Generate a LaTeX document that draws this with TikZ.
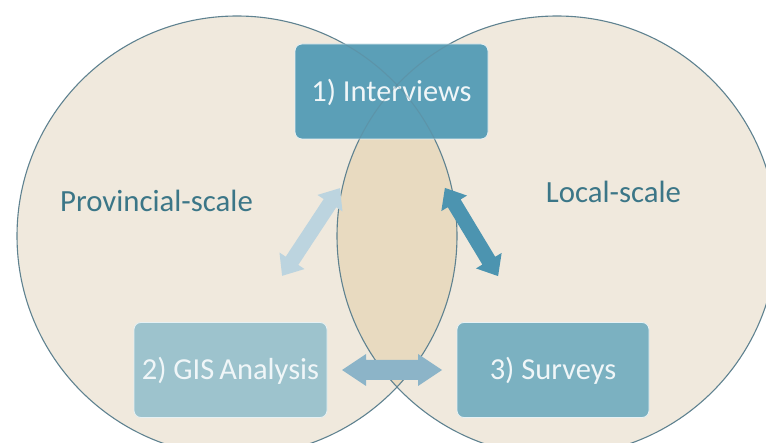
\documentclass[tikz,border=0pt]{standalone}
\usepackage{fontspec}
\setmainfont{Carlito}
\definecolor{cream}{HTML}{F0E9DD}
\definecolor{lensc}{HTML}{E8DAC0}
\definecolor{outl}{HTML}{5F8290}
\definecolor{boxa}{HTML}{5B9FB7}
\definecolor{boxb}{HTML}{9DC3CD}
\definecolor{boxc}{HTML}{7BB1C1}
\definecolor{boxtxt}{HTML}{F0F6F8}
\definecolor{lbl}{HTML}{3B7687}
\definecolor{arrl}{HTML}{BCD4DF}
\definecolor{arrr}{HTML}{4C94B0}
\definecolor{arrh}{HTML}{8CB4C8}
\tikzset{
  stagebox/.style={rounded corners=7pt, draw=white!85!boxa, line width=0.8pt,
    minimum width=193pt, minimum height=95pt, inner sep=0pt,
    text=boxtxt, font=\fontsize{30.5}{33}\selectfont, text height=19.5pt, text depth=0pt},
  scalelbl/.style={text=lbl, font=\fontsize{30.8}{33}\selectfont, anchor=base, inner sep=0pt},
  circline/.style={draw=outl, line width=1.1pt},
}
% double block arrow: #1 length, #2 shaft half, #3 head half, #4 head length
\newcommand{\dblarrowpath}[4]{%
  (-#1/2,0) -- (-#1/2+#4,#3) -- (-#1/2+#4,#2) -- (#1/2-#4,#2) -- (#1/2-#4,#3) -- (#1/2,0)
  -- (#1/2-#4,-#3) -- (#1/2-#4,-#2) -- (-#1/2+#4,-#2) -- (-#1/2+#4,-#3) -- cycle}
\begin{document}
\begin{tikzpicture}[x=1pt,y=-1pt]
\useasboundingbox (0,0) rectangle (766,443);
\begin{scope}
\clip (0,0) rectangle (766,443);
\fill[cream] (237,236) circle (220);
\fill[cream] (557,236) circle (220);
\begin{scope}
\clip (237,236) circle (220);
\fill[lensc] (557,236) circle (220);
\end{scope}
\draw[circline] (237,236) circle (220);
\draw[circline] (557,236) circle (220);
\end{scope}

% arrows
\begin{scope}[shift={(311,232)}, rotate=56.6]
\fill[arrl] \dblarrowpath{105}{7.5}{15}{18};
\end{scope}
\begin{scope}[shift={(471.5,232)}, rotate=-58.9]
\fill[arrr] \dblarrowpath{103}{7.5}{15}{18};
\end{scope}
\begin{scope}[shift={(392,370)}]
\fill[arrh] \dblarrowpath{100}{10}{16}{24};
\end{scope}

% boxes
\node[stagebox, fill=boxa] (interviews) at (391.5,91.5) {1) Interviews};
\node[stagebox, fill=boxb] (gis) at (230.5,370) {2) GIS\,Analysis};
\node[stagebox, fill=boxc, minimum width=192pt] (surveys) at (553,370) {3) Surveys};

\begin{scope}
\clip (interviews.south west) rectangle (interviews.north east);
\draw[circline, opacity=0.35] (237,236) circle (220);
\draw[circline, opacity=0.35] (557,236) circle (220);
\end{scope}

\node[scalelbl] (prov) at (156.5,212) {Provincial-scale};
\node[scalelbl] (local) at (613.5,203) {Local-scale};
\end{tikzpicture}
\end{document}
